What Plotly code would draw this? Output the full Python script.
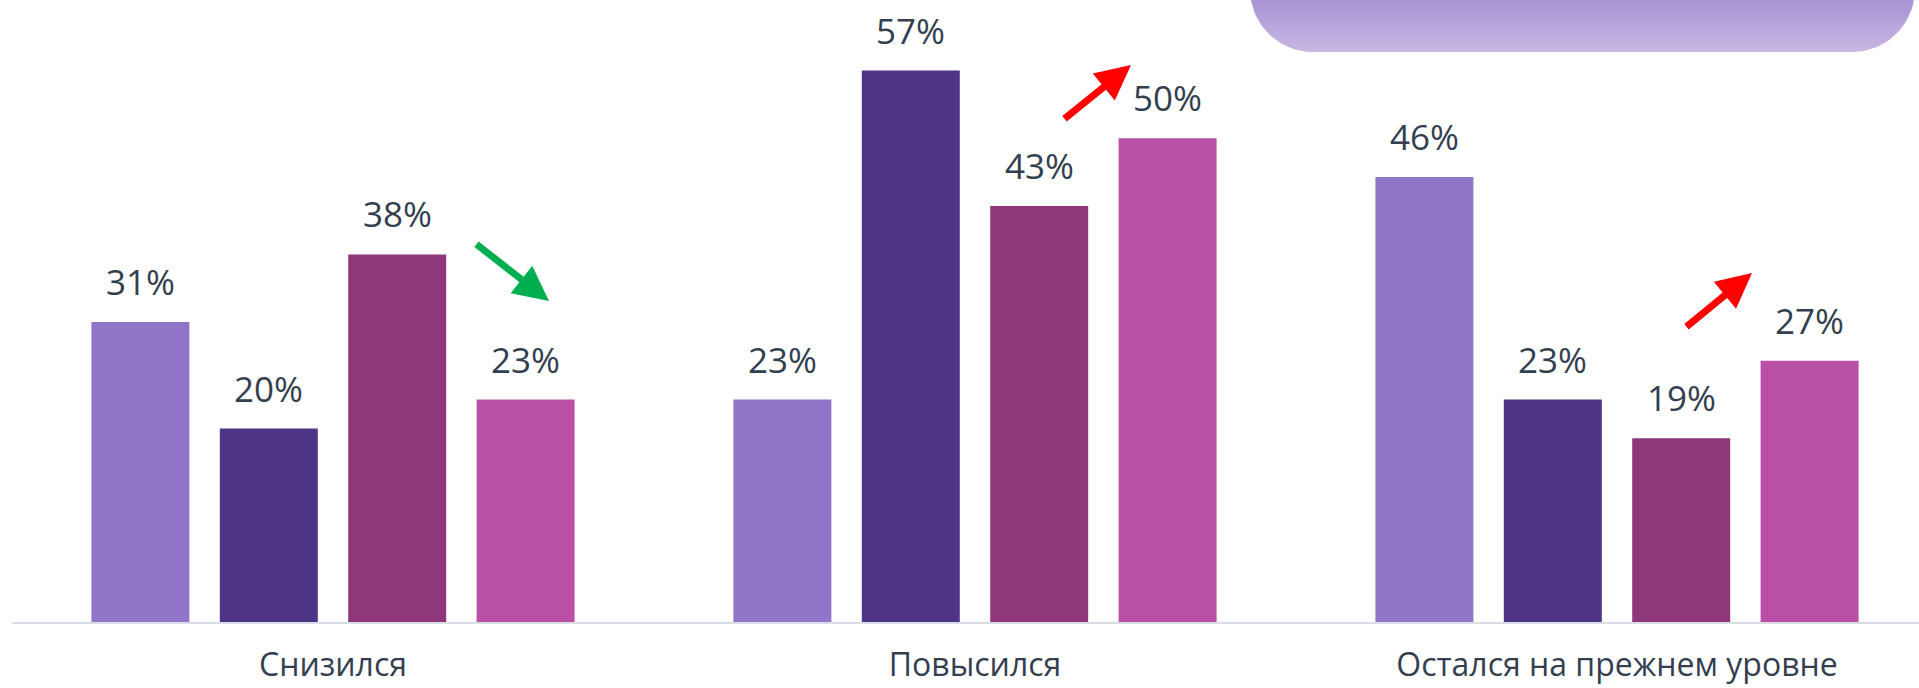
import numpy as np
import plotly.graph_objects as go

# ---- data ----
categories = ["Снизился", "Повысился", "Остался на прежнем уровне"]
series_names = ["Группа 1", "Группа 2", "Группа 3", "Группа 4"]
values = [
    [31, 23, 46],
    [20, 57, 23],
    [38, 43, 19],
    [23, 50, 27],
]
colors = ["#9175C8", "#4E3487", "#8E387B", "#B950A5"]
text_color = "#333F4F"

fig = go.Figure()
for name, vals, col in zip(series_names, values, colors):
    fig.add_trace(go.Bar(x=categories, y=vals, name=name, marker=dict(color=col, line=dict(width=0)),
                         hoverinfo="skip"))

# value labels
annotations = []
n = len(series_names)
for k, vals in enumerate(values):
    for ci, v in enumerate(vals):
        annotations.append(dict(
            x=ci + (k - (n - 1) / 2) * 0.2, y=v, xref="x", yref="y",
            text=f"{v}%", showarrow=False, yanchor="bottom", yshift=15,
            font=dict(family="Open Sans", size=35, color=text_color)))

# decorative rounded box at top right (pixel overlay axes)
r = 63
cy = -11
t = np.linspace(0, np.pi / 2, 30)
lx = 1313 - r * np.cos(t)
ly = cy + r * np.sin(t)
rx = 1852 + r * np.sin(t)
ry = cy + r * np.cos(t)
bx = list(lx) + list(rx) + [lx[0]]
by = list(ly) + list(ry) + [ly[0]]
fig.add_trace(go.Scatter(x=bx, y=by, xaxis="x2", yaxis="y2", mode="lines", fill="toself",
                         line=dict(width=0, color="rgba(0,0,0,0)"),
                         fillgradient=dict(type="vertical", colorscale=[[0, "#A794D4"], [1, "#C8B8E3"]],
                                           start=0, stop=53),
                         hoverinfo="skip", showlegend=False))

# trend arrows
arrows = [
    ((475, 243), (549, 301), "#00B050"),
    ((1063, 120), (1131, 65), "#FF0000"),
    ((1685, 328), (1752, 273), "#FF0000"),
]
for (tx, ty), (hx, hy), c in arrows:
    annotations.append(dict(x=hx, y=hy, ax=tx, ay=ty, xref="x2", yref="y2", axref="x2", ayref="y2",
                            text="", showarrow=True, arrowhead=2, arrowsize=1, arrowwidth=7,
                            arrowcolor=c, standoff=0))

fig.update_layout(
    width=1919, height=688,
    margin=dict(l=12, r=0, t=0, b=66),
    paper_bgcolor="white", plot_bgcolor="white",
    barmode="group", bargap=0.2, bargroupgap=0.237,
    showlegend=False,
    xaxis=dict(range=[-0.5, 2.4704], showline=True, linecolor="#D9DEE4", linewidth=2,
               showgrid=False, zeroline=False, ticks="", ticklabelstandoff=14, automargin=False,
               tickfont=dict(family="Open Sans", size=32, color=text_color)),
    yaxis=dict(range=[0, 64.3], visible=False, showgrid=False, zeroline=False, automargin=False),
    xaxis2=dict(range=[12, 1919], overlaying="x", visible=False, domain=[0, 1]),
    yaxis2=dict(range=[622, 0], overlaying="y", visible=False),
    annotations=annotations,
)

fig.write_html("out.html")
